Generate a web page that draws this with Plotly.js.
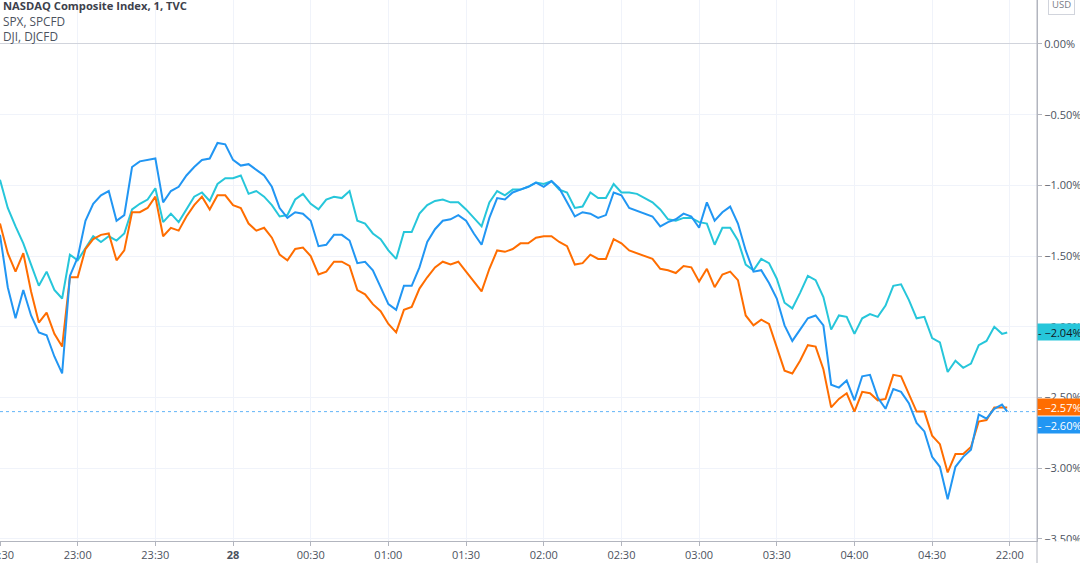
<!DOCTYPE html>
<html>
<head>
<meta charset="utf-8">
<script src="https://cdn.plot.ly/plotly-3.0.1.min.js"></script>
<style>
html,body{margin:0;padding:0;background:#fff;overflow:hidden;}
#chart{width:1080px;height:563px;}
</style>
</head>
<body>
<div id="chart"></div>
<script>
// minutes since 22:30
var minutes = [0,3,6,9,12,15,18,21,24,27,30,33,36,39,42,45,48,51,54,57,60,63,66,69,72,75,78,81,84,87,90,93,96,99,102,105,108,111,114,117,120,123,126,129,132,135,138,141,144,147,150,153,156,159,162,165,168,171,174,177,180,183,186,189,192,195,198,201,204,207,210,213,216,219,222,225,228,231,234,237,240,243,246,249,252,255,258,261,264,267,270,273,276,279,282,285,288,291,294,297,300,303,306,309,312,315,318,321,324,327,330,333,336,339,342,345,348,351,354,357,360,363,366,369,372,375,378,381,384,387,389];

var seriesNames = ["NASDAQ Composite Index, 1, TVC", "SPX, SPCFD", "DJI, DJCFD"];

var nasdaq = [-1.35,-1.72,-1.94,-1.74,-1.92,-2.04,-2.06,-2.21,-2.33,-1.64,-1.51,-1.25,-1.13,-1.07,-1.04,-1.25,-1.21,-0.87,-0.83,-0.82,-0.81,-1.12,-1.04,-1.01,-0.93,-0.87,-0.82,-0.81,-0.70,-0.71,-0.82,-0.86,-0.85,-0.89,-0.93,-1.01,-1.16,-1.23,-1.19,-1.20,-1.25,-1.43,-1.42,-1.35,-1.35,-1.39,-1.55,-1.54,-1.60,-1.72,-1.84,-1.88,-1.71,-1.71,-1.58,-1.40,-1.31,-1.25,-1.24,-1.21,-1.25,-1.34,-1.42,-1.23,-1.09,-1.10,-1.05,-1.03,-1.01,-0.98,-1.01,-0.97,-1.02,-1.12,-1.22,-1.19,-1.20,-1.23,-1.21,-1.05,-1.07,-1.16,-1.18,-1.20,-1.22,-1.29,-1.26,-1.24,-1.20,-1.22,-1.30,-1.12,-1.25,-1.19,-1.15,-1.27,-1.46,-1.61,-1.60,-1.69,-1.80,-1.99,-2.10,-2.02,-1.94,-1.92,-1.99,-2.41,-2.43,-2.38,-2.52,-2.35,-2.34,-2.50,-2.58,-2.44,-2.46,-2.54,-2.68,-2.74,-2.92,-2.99,-3.22,-2.99,-2.92,-2.87,-2.62,-2.65,-2.58,-2.55,-2.60];

var spx = [-1.27,-1.48,-1.61,-1.48,-1.75,-1.97,-1.90,-2.05,-2.14,-1.65,-1.65,-1.45,-1.38,-1.35,-1.34,-1.53,-1.46,-1.19,-1.19,-1.16,-1.08,-1.36,-1.30,-1.32,-1.22,-1.14,-1.08,-1.17,-1.07,-1.07,-1.14,-1.16,-1.27,-1.32,-1.30,-1.37,-1.49,-1.53,-1.45,-1.44,-1.50,-1.63,-1.61,-1.54,-1.54,-1.57,-1.74,-1.77,-1.84,-1.89,-1.98,-2.04,-1.88,-1.86,-1.73,-1.65,-1.58,-1.54,-1.56,-1.54,-1.61,-1.68,-1.75,-1.59,-1.46,-1.47,-1.45,-1.41,-1.41,-1.37,-1.36,-1.36,-1.40,-1.43,-1.56,-1.55,-1.49,-1.52,-1.52,-1.38,-1.41,-1.46,-1.48,-1.50,-1.52,-1.59,-1.60,-1.62,-1.57,-1.58,-1.68,-1.59,-1.72,-1.63,-1.61,-1.67,-1.92,-1.99,-1.95,-1.98,-2.14,-2.31,-2.33,-2.24,-2.13,-2.14,-2.30,-2.57,-2.51,-2.47,-2.60,-2.46,-2.47,-2.52,-2.51,-2.34,-2.35,-2.47,-2.60,-2.60,-2.77,-2.83,-3.03,-2.90,-2.90,-2.85,-2.67,-2.66,-2.57,-2.57,-2.57];

var dji = [-0.96,-1.16,-1.29,-1.41,-1.56,-1.71,-1.61,-1.74,-1.80,-1.49,-1.53,-1.44,-1.36,-1.40,-1.36,-1.39,-1.34,-1.17,-1.13,-1.10,-1.02,-1.26,-1.20,-1.26,-1.17,-1.08,-1.05,-1.11,-0.99,-0.95,-0.95,-0.93,-1.06,-1.04,-1.08,-1.14,-1.22,-1.21,-1.10,-1.06,-1.13,-1.17,-1.10,-1.08,-1.09,-1.04,-1.25,-1.27,-1.34,-1.38,-1.46,-1.52,-1.33,-1.33,-1.20,-1.14,-1.11,-1.10,-1.12,-1.12,-1.17,-1.23,-1.29,-1.12,-1.04,-1.07,-1.03,-1.03,-1.01,-0.98,-0.99,-0.97,-1.03,-1.05,-1.16,-1.15,-1.05,-1.09,-1.09,-0.99,-1.05,-1.05,-1.06,-1.09,-1.12,-1.17,-1.24,-1.25,-1.23,-1.23,-1.26,-1.27,-1.42,-1.30,-1.30,-1.39,-1.56,-1.60,-1.52,-1.55,-1.66,-1.83,-1.87,-1.76,-1.64,-1.67,-1.79,-2.02,-1.92,-1.93,-2.05,-1.94,-1.91,-1.93,-1.85,-1.71,-1.70,-1.81,-1.94,-1.93,-2.08,-2.11,-2.32,-2.24,-2.29,-2.26,-2.13,-2.10,-2.00,-2.05,-2.04];

var xTickVals = [0,30,60,90,120,150,180,210,240,270,300,330,360,390];
var xTickText = ["22:30","23:00","23:30","<b>28</b>","00:30","01:00","01:30","02:00","02:30","03:00","03:30","04:00","04:30","22:00"];
var yTickVals = [0,-0.5,-1,-1.5,-2,-2.5,-3,-3.5];
var yTickText = ["0.00%","\u22120.50%","\u22121.00%","\u22121.50%","\u22122.00%","\u22122.50%","\u22123.00%","\u22123.50%"];

var COL_BLUE = "#2196F3", COL_ORANGE = "#FF6D00", COL_CYAN = "#26C6DA";
var FONT = "Open Sans, Noto Sans, sans-serif";

function fmt(v){ return (v < 0 ? "\u2212" : "") + Math.abs(v).toFixed(2) + "%"; }
function last(a){ return a[a.length-1]; }

var traces = [
  {x: minutes, y: dji, type: "scatter", mode: "lines", name: seriesNames[2], line: {color: COL_CYAN, width: 2}, hoverinfo: "skip"},
  {x: minutes, y: spx, type: "scatter", mode: "lines", name: seriesNames[1], line: {color: COL_ORANGE, width: 2}, hoverinfo: "skip"},
  {x: minutes, y: nasdaq, type: "scatter", mode: "lines", name: seriesNames[0], line: {color: COL_BLUE, width: 2}, hoverinfo: "skip"}
];

function priceLabel(v, bg, fg, shift){
  return {xref: "paper", x: 1, xanchor: "left", yref: "y", y: v, yanchor: "middle", yshift: shift,
    text: "- " + fmt(v), showarrow: false, align: "left", width: 50, height: 16, borderpad: 0,
    bgcolor: bg, font: {family: FONT, size: 11, color: fg}};
}

var layout = {
  width: 1080, height: 563,
  margin: {l: 0, r: 43, t: 0, b: 22, pad: 0},
  paper_bgcolor: "#ffffff", plot_bgcolor: "#ffffff",
  showlegend: false,
  xaxis: {
    range: [0, 400.5], tickmode: "array", tickvals: xTickVals, ticktext: xTickText,
    showgrid: true, gridcolor: "#f0f3fa", gridwidth: 1, zeroline: false,
    showline: true, linecolor: "#b2b5be", linewidth: 1,
    ticks: "outside", ticklen: 4, tickcolor: "#b2b5be",
    tickfont: {family: FONT, size: 11, color: "#4c525e"},
    ticklabeloverflow: "allow", fixedrange: true
  },
  yaxis: {
    range: [-3.515, 0.311], side: "right", tickmode: "array", tickvals: yTickVals, ticktext: yTickText,
    showgrid: true, gridcolor: "#f0f3fa", gridwidth: 1,
    zeroline: true, zerolinecolor: "#d1d4dc", zerolinewidth: 1,
    showline: true, linecolor: "#b2b5be", linewidth: 1,
    ticks: "outside", ticklen: 4, tickcolor: "#b2b5be",
    tickfont: {family: FONT, size: 11, color: "#4c525e"},
    ticklabeloverflow: "allow", fixedrange: true
  },
  shapes: [
    {type: "line", xref: "paper", x0: 0, x1: 1, yref: "y", y0: last(nasdaq), y1: last(nasdaq),
     line: {color: "rgba(33,150,243,0.7)", width: 1, dash: "dot"}, layer: "below"},
    {type: "rect", xref: "paper", x0: 1.001, x1: 1.06, yref: "paper", y0: -0.06, y1: -0.0005,
     fillcolor: "#ffffff", line: {width: 0}, layer: "above"},
    {type: "line", xref: "paper", x0: 1, x1: 1, yref: "paper", y0: -0.06, y1: 1,
     line: {color: "#b2b5be", width: 1}, layer: "above"}
  ],
  annotations: [
    {xref: "paper", x: 0, xanchor: "left", xshift: 1, yref: "paper", y: 1, yanchor: "middle", yshift: -5.5,
     text: "<b>" + seriesNames[0] + "</b>", showarrow: false, font: {family: FONT, size: 11.2, color: "#3d414c"}},
    {xref: "paper", x: 0, xanchor: "left", xshift: 1, yref: "paper", y: 1, yanchor: "middle", yshift: -20.5,
     text: seriesNames[1], showarrow: false, font: {family: FONT, size: 11.8, color: "#4c525e"}},
    {xref: "paper", x: 0, xanchor: "left", xshift: 1, yref: "paper", y: 1, yanchor: "middle", yshift: -35.5,
     text: seriesNames[2], showarrow: false, font: {family: FONT, size: 11.8, color: "#4c525e"}},
    {xref: "paper", x: 1.0235, xanchor: "center", yref: "paper", y: 1, yanchor: "middle", yshift: -4,
     text: "USD", showarrow: false, bgcolor: "#ffffff", bordercolor: "#d1d4dc", borderwidth: 1, borderpad: 3,
     font: {family: FONT, size: 9.5, color: "#787b86"}},
    priceLabel(last(dji), COL_CYAN, "#131722", 0),
    priceLabel(last(spx), COL_ORANGE, "#ffffff", 0),
    priceLabel(last(nasdaq), COL_BLUE, "#ffffff", -13)
  ]
};

Plotly.newPlot("chart", traces, layout, {staticPlot: true, displayModeBar: false});
</script>
</body>
</html>
